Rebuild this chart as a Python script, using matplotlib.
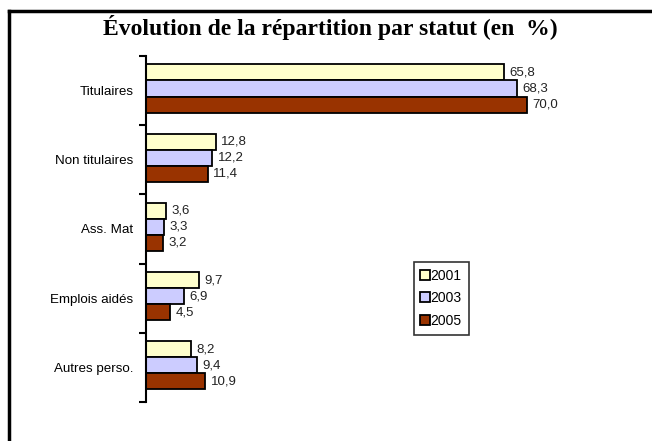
import numpy as np
import matplotlib.pyplot as plt
from matplotlib.lines import Line2D

# ==== données ====
categories = ["Titulaires", "Non titulaires", "Ass. Mat", "Emplois aidés", "Autres perso."]
years = ["2001", "2003", "2005"]
val_2001 = [65.8, 12.8, 3.6, 9.7, 8.2]
val_2003 = [68.3, 12.2, 3.3, 6.9, 9.4]
val_2005 = [70.0, 11.4, 3.2, 4.5, 10.9]
colors = ["#FFFFCC", "#CCCCFF", "#993300"]

series = [val_2001, val_2003, val_2005]

# ==== figure ====
fig = plt.figure(figsize=(6.52, 4.41), dpi=100)
ax = fig.add_axes([146 / 652, 1 - 402 / 441, 435 / 652, 346 / 441])

y = np.arange(len(categories))
h = 0.232
for i, (vals, col) in enumerate(zip(series, colors)):
    pos = y + (i - 1) * h - 0.03
    ax.barh(pos, vals, height=h, color=col, edgecolor="black", linewidth=1.3, label=years[i])
    for p, v in zip(pos, vals):
        ax.text(v + 1.0, p, f"{v:.1f}".replace(".", ","), va="center", ha="left",
                fontsize=9.5, family="Liberation Sans", color="#222222")

ax.set_xlim(0, 80)
ax.set_ylim(len(categories) - 0.5, -0.5)
ax.set_yticks(y)
ax.set_yticklabels(categories, family="Liberation Sans", fontsize=9.6)
ax.tick_params(axis="y", which="major", length=0, pad=9)
ax.set_yticks(np.arange(len(categories) + 1) - 0.5, minor=True)
ax.tick_params(axis="y", which="minor", length=5, width=1.5, direction="out")
ax.set_xticks([])
for s in ["top", "right", "bottom"]:
    ax.spines[s].set_visible(False)
ax.spines["left"].set_linewidth(1.5)

# ==== légende ====
handles = [Line2D([], [], marker="s", linestyle="none", markersize=7, markerfacecolor=c,
                  markeredgecolor="black", markeredgewidth=1.3) for c in colors]
leg = fig.legend(handles, years, loc="upper left", bbox_to_anchor=(414 / 652, 1 - 262 / 441),
                 frameon=True, fancybox=False, handlelength=0.6, handletextpad=0.1,
                 labelspacing=0.6, borderpad=0.5, borderaxespad=0,
                 prop={"family": "Liberation Sans", "size": 10})
leg._legend_box.sep = 0
leg.get_frame().set_edgecolor("black")
leg.get_frame().set_linewidth(1.2)

# ==== titre et cadre ====
fig.text(330 / 652, 1 - 27 / 441, "Évolution de la répartition par statut (en  %)",
         ha="center", va="center", fontsize=17, fontweight="bold", family="Liberation Serif")
fig.add_artist(Line2D([9 / 652, 1], [1 - 11 / 441, 1 - 11 / 441], color="black", linewidth=2.5))
fig.add_artist(Line2D([9 / 652, 9 / 652], [0, 1 - 11 / 441], color="black", linewidth=2.5))

plt.savefig("out.png", dpi=100)
